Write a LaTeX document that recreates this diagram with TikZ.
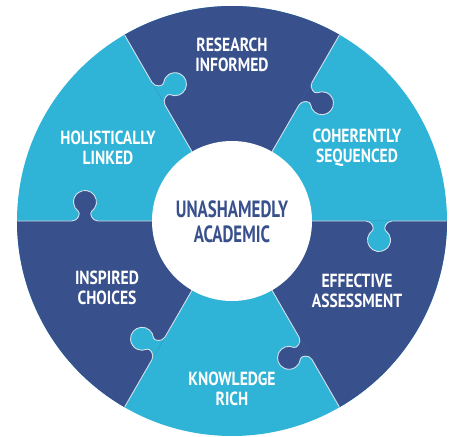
\documentclass[tikz,border=0pt]{standalone}
\usepackage{fontspec}
\setmainfont{PT Sans}[FakeStretch=0.82]
\newfontfamily\ctrfont{PT Sans}[FakeStretch=0.72]
\definecolor{darkb}{HTML}{38508C}
\definecolor{lightb}{HTML}{2FB3D6}
\definecolor{edgec}{HTML}{D5E2EE}
\tikzset{
  lbl/.style={text=white, font=\bfseries\fontsize{19}{20.5}\selectfont, align=center, inner sep=0pt},
  ctr/.style={text=darkb, font=\ctrfont\bfseries\fontsize{23.5}{24.5}\selectfont, align=center, inner sep=0pt},
  seam/.style={draw=edgec, line width=0.9pt, line join=round}
}
\begin{document}
\begin{tikzpicture}[x=1pt,y=1pt]
\useasboundingbox (-232,-215) rectangle (220,221);
% disc
\fill[lightb] (0,0) circle[radius=215];
\foreach \a in {60,180,300}{
  \fill[darkb] (0,0) -- (\a:215) arc[start angle=\a, end angle=\a+60, radius=215] -- cycle;
}
% puzzle tabs and seams
\foreach \a/\c in {0/lightb,60/darkb,120/lightb,180/darkb,240/lightb,300/darkb}{
  \begin{scope}[rotate=\a]
    \fill[\c] (134,0) .. controls (140,0) and (142.9,-7.9) .. (140.4,-9.6)
      arc[start angle=125, end angle=415, radius=11.5]
      .. controls (151.1,-7.9) and (154,0) .. (160,0) -- cycle;
    \draw[seam] (80,0) -- (134,0) .. controls (140,0) and (142.9,-7.9) .. (140.4,-9.6)
      arc[start angle=125, end angle=415, radius=11.5]
      .. controls (151.1,-7.9) and (154,0) .. (160,0) -- (214.5,0);
  \end{scope}
}
% centre
\fill[white] (0,0) circle[radius=80];
\node[ctr] (centre) at (0,-1) {UNASHAMEDLY\\ACADEMIC};
% labels
\node[lbl] (research) at (0,166) {RESEARCH\\INFORMED};
\node[lbl] (coherent) at (125,73) {COHERENTLY\\SEQUENCED};
\node[lbl] (effective) at (125,-70) {EFFECTIVE\\ASSESSMENT};
\node[lbl] (knowledge) at (0,-168) {KNOWLEDGE\\RICH};
\node[lbl] (inspired) at (-125,-67) {INSPIRED\\CHOICES};
\node[lbl] (holistic) at (-124,73) {HOLISTICALLY\\LINKED};
\end{tikzpicture}
\end{document}
